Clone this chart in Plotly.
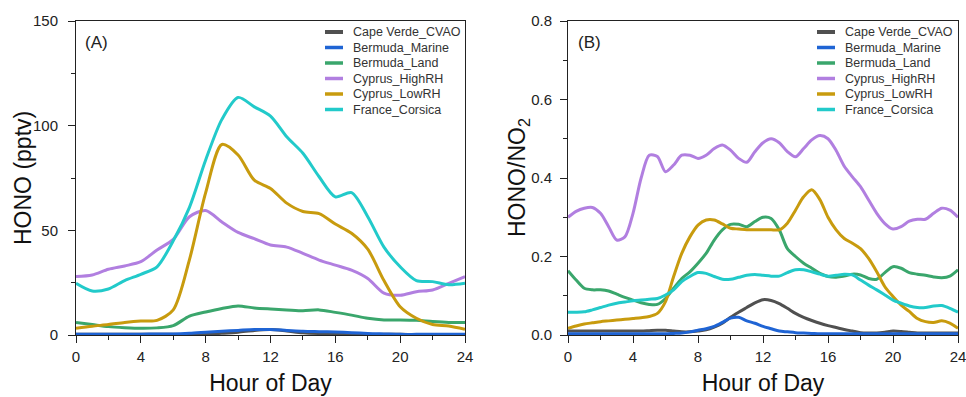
import plotly.graph_objects as go

# ---------------- data ----------------
series_names = ["Cape Verde_CVAO", "Bermuda_Marine", "Bermuda_Land",
                "Cyprus_HighRH", "Cyprus_LowRH", "France_Corsica"]
series_colors = ["#505050", "#1f64d4", "#3aa66c", "#b17fe0", "#c89b0e", "#22caca"]

hours_A = list(range(0, 25))
hono_cape_verde = [0.3, 0.3, 0.3, 0.3, 0.3, 0.3, 0.3, 0.3, 0.4, 0.8, 1.3, 2.2, 2.6,
                   1.9, 1.1, 0.7, 0.5, 0.4, 0.3, 0.3, 0.3, 0.2, 0.2, 0.2, 0.2]
hono_bermuda_marine = [0.4, 0.4, 0.4, 0.4, 0.4, 0.5, 0.5, 0.8, 1.3, 1.8, 2.2, 2.6, 2.6,
                       2.2, 1.8, 1.6, 1.4, 1.1, 0.7, 0.5, 0.3, 0.3, 0.3, 0.3, 0.3]
hono_bermuda_land = [6.0, 5.0, 4.0, 3.5, 3.2, 3.4, 4.5, 9.0, 11.0, 12.7, 13.9, 12.9, 12.4,
                     12.0, 11.6, 12.0, 10.8, 9.5, 8.0, 7.2, 7.2, 7.0, 6.4, 6.0, 6.0]
hono_cyprus_high = [27.9, 28.7, 31.4, 33.0, 35.0, 40.6, 45.7, 56.5, 59.5, 54.0, 49.0, 46.0, 43.0,
                    42.0, 39.0, 35.8, 33.4, 31.0, 27.0, 20.0, 19.0, 20.7, 21.5, 24.7, 27.9]
hono_cyprus_low = [3.2, 4.2, 5.0, 6.0, 6.7, 7.0, 12.0, 36.0, 68.0, 91.0, 86.0, 74.0, 70.0,
                   63.0, 59.0, 58.0, 53.0, 48.6, 41.0, 26.0, 13.5, 8.0, 5.0, 4.3, 2.7]
hono_france = [24.7, 21.0, 22.0, 26.0, 29.0, 32.6, 45.0, 61.0, 83.6, 103.0, 113.5, 109.0, 104.6,
               94.7, 86.8, 75.6, 66.0, 68.0, 56.5, 42.0, 32.6, 26.0, 25.5, 24.0, 24.7]

hours_B = [h * 0.5 for h in range(0, 49)]
ratio_cape_verde = [0.010, 0.010, 0.010, 0.010, 0.010, 0.010, 0.010, 0.010, 0.010, 0.010,
                    0.011, 0.012, 0.012, 0.010, 0.008, 0.008, 0.010, 0.013, 0.020, 0.030,
                    0.045, 0.058, 0.070, 0.082, 0.090, 0.088, 0.080, 0.068, 0.055, 0.045,
                    0.037, 0.030, 0.024, 0.019, 0.014, 0.010, 0.006, 0.005, 0.005, 0.007,
                    0.010, 0.009, 0.007, 0.005, 0.005, 0.005, 0.005, 0.005, 0.005]
ratio_bermuda_marine = [0.003, 0.003, 0.003, 0.003, 0.003, 0.003, 0.003, 0.003, 0.003, 0.003,
                        0.003, 0.003, 0.003, 0.004, 0.005, 0.008, 0.012, 0.016, 0.022, 0.032,
                        0.043, 0.045, 0.036, 0.030, 0.022, 0.016, 0.010, 0.008, 0.006, 0.005,
                        0.004, 0.003, 0.003, 0.003, 0.003, 0.003, 0.003, 0.003, 0.003, 0.003,
                        0.003, 0.003, 0.003, 0.003, 0.003, 0.003, 0.003, 0.003, 0.003]
ratio_bermuda_land = [0.164, 0.140, 0.119, 0.115, 0.115, 0.112, 0.104, 0.096, 0.089, 0.082,
                      0.078, 0.078, 0.093, 0.119, 0.144, 0.161, 0.183, 0.208, 0.242, 0.268,
                      0.282, 0.282, 0.276, 0.289, 0.300, 0.297, 0.268, 0.220, 0.200, 0.183,
                      0.170, 0.157, 0.149, 0.147, 0.150, 0.155, 0.153, 0.144, 0.142, 0.159,
                      0.174, 0.170, 0.159, 0.155, 0.152, 0.148, 0.146, 0.150, 0.166]
ratio_cyprus_high = [0.300, 0.315, 0.323, 0.325, 0.310, 0.276, 0.242, 0.250, 0.310, 0.400,
                     0.458, 0.455, 0.416, 0.433, 0.458, 0.458, 0.450, 0.458, 0.475, 0.484,
                     0.471, 0.450, 0.440, 0.467, 0.490, 0.500, 0.490, 0.467, 0.454, 0.475,
                     0.497, 0.508, 0.500, 0.470, 0.430, 0.403, 0.378, 0.344, 0.310, 0.284,
                     0.270, 0.276, 0.290, 0.295, 0.295, 0.310, 0.323, 0.318, 0.300]
ratio_cyprus_low = [0.017, 0.023, 0.028, 0.031, 0.034, 0.036, 0.038, 0.040, 0.042, 0.044,
                    0.047, 0.055, 0.085, 0.149, 0.208, 0.250, 0.280, 0.293, 0.293, 0.283,
                    0.272, 0.270, 0.268, 0.268, 0.268, 0.268, 0.268, 0.285, 0.318, 0.352,
                    0.370, 0.345, 0.300, 0.268, 0.246, 0.234, 0.220, 0.195, 0.161, 0.123,
                    0.098, 0.076, 0.060, 0.042, 0.034, 0.032, 0.036, 0.030, 0.017]
ratio_france = [0.058, 0.058, 0.059, 0.064, 0.070, 0.076, 0.081, 0.084, 0.087, 0.089,
                0.091, 0.093, 0.102, 0.115, 0.136, 0.149, 0.159, 0.157, 0.149, 0.142,
                0.142, 0.147, 0.152, 0.154, 0.152, 0.150, 0.150, 0.159, 0.166, 0.166,
                0.161, 0.155, 0.150, 0.152, 0.155, 0.153, 0.140, 0.127, 0.115, 0.102,
                0.089, 0.081, 0.074, 0.070, 0.070, 0.074, 0.075, 0.068, 0.058]

panel_A = [hono_cape_verde, hono_bermuda_marine, hono_bermuda_land,
           hono_cyprus_high, hono_cyprus_low, hono_france]
panel_B = [ratio_cape_verde, ratio_bermuda_marine, ratio_bermuda_land,
           ratio_cyprus_high, ratio_cyprus_low, ratio_france]

x_ticks = [0, 4, 8, 12, 16, 20, 24]

# ---------------- layout helpers ----------------
W, H = 966, 397
ML, MR, MT, MB = 76, 8, 21, 62
PW, PH = W - ML - MR, H - MT - MB


def px_x(px):
    return (px - ML) / PW


def px_y(py):
    return 1 - (py - MT) / PH


FONT = "Liberation Sans, Arial, sans-serif"
fig = go.Figure()

order = [3, 2, 4, 5, 0, 1]
for i in order:
    fig.add_trace(go.Scatter(x=hours_A, y=panel_A[i], name=series_names[i], mode="lines",
                             line=dict(color=series_colors[i], width=3, shape="spline", smoothing=0.8),
                             xaxis="x", yaxis="y", showlegend=False))
for i in order:
    fig.add_trace(go.Scatter(x=hours_B, y=panel_B[i], name=series_names[i], mode="lines",
                             line=dict(color=series_colors[i], width=3, shape="spline", smoothing=0.8),
                             xaxis="x2", yaxis="y2", showlegend=False))

axis_common = dict(showline=True, linecolor="#222222", linewidth=1, mirror=True,
                   ticks="outside", ticklen=7, tickcolor="#222222", showgrid=False,
                   zeroline=False, automargin=False,
                   tickfont=dict(family=FONT, size=15, color="#222222"))

xa = dict(axis_common, range=[0, 24], tickvals=x_ticks, ticklabelstandoff=1,
          ticklabeloverflow="allow",
          minor=dict(ticks="outside", ticklen=4, dtick=2, tick0=0, tickcolor="#222222"),
          title=dict(text="Hour of Day", font=dict(family=FONT, size=23, color="#111111"), standoff=10))

# manual legends (compact spacing as in the reference)
shapes = []
annotations = []
legend_rows_y = [32, 47.5, 63, 78.5, 94, 109.5]
for x_line0, x_text in [(325, 351), (817, 843)]:
    for i, name in enumerate(series_names):
        yy = px_y(legend_rows_y[i])
        shapes.append(dict(type="line", xref="paper", yref="paper",
                           x0=px_x(x_line0), x1=px_x(x_line0 + 18), y0=yy, y1=yy,
                           line=dict(color=series_colors[i], width=4 if i == 0 else 3.5)))
        annotations.append(dict(text=name, xref="paper", yref="paper", x=px_x(x_text), y=yy,
                                xanchor="left", yanchor="middle", showarrow=False,
                                font=dict(family=FONT, size=12.5, color="#333333")))

annotations.append(dict(text="(A)", xref="paper", yref="paper", x=px_x(83), y=px_y(42),
                        xanchor="left", yanchor="middle", showarrow=False,
                        font=dict(family=FONT, size=17, color="#222222")))
annotations.append(dict(text="(B)", xref="paper", yref="paper", x=px_x(576), y=px_y(42),
                        xanchor="left", yanchor="middle", showarrow=False,
                        font=dict(family=FONT, size=17, color="#222222")))
# y-axis titles
annotations.append(dict(text="HONO (pptv)", xref="paper", yref="paper", x=px_x(23), y=px_y(178),
                        xanchor="center", yanchor="middle", textangle=-90, showarrow=False,
                        font=dict(family=FONT, size=23, color="#111111")))
annotations.append(dict(text="HONO/NO<sub>2</sub>", xref="paper", yref="paper", x=px_x(518), y=px_y(178),
                        xanchor="center", yanchor="middle", textangle=-90, showarrow=False,
                        font=dict(family=FONT, size=23, color="#111111")))

fig.update_layout(
    template="none",
    width=W, height=H,
    margin=dict(l=ML, r=MR, t=MT, b=MB, pad=0),
    paper_bgcolor="white", plot_bgcolor="white",
    showlegend=False,
    xaxis=dict(xa, domain=[px_x(76), px_x(465)], anchor="y"),
    xaxis2=dict(xa, domain=[px_x(568), px_x(958)], anchor="y2"),
    yaxis=dict(axis_common, range=[0, 150], tickvals=[0, 50, 100, 150], anchor="x",
               ticklabelstandoff=7,
               minor=dict(ticks="outside", ticklen=4, dtick=25, tick0=0, tickcolor="#222222")),
    yaxis2=dict(axis_common, range=[0, 0.8], tickvals=[0, 0.2, 0.4, 0.6, 0.8], tickformat=".1f",
                anchor="x2", ticklabelstandoff=5,
                minor=dict(ticks="outside", ticklen=4, dtick=0.1, tick0=0, tickcolor="#222222")),
    shapes=shapes,
    annotations=annotations,
)

# remove the browser's default 8px body margin so the figure sits at the page origin
fig.write_html("out.html", config={"displayModeBar": False},
               post_script="document.body.style.margin='0';")
